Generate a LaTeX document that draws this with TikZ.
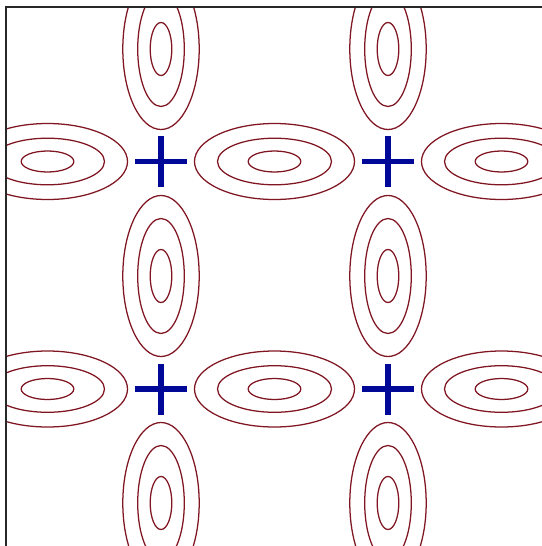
\documentclass[tikz,border=0pt]{standalone}
\definecolor{contour}{RGB}{128,22,34}
\definecolor{saddle}{RGB}{0,8,152}
\definecolor{frameline}{RGB}{40,40,40}
\tikzset{
  level/.style={draw=contour, line width=0.95pt},
  crossbar/.style={draw=saddle, line width=4.2pt},
  edge/.style={draw=frameline, line width=1.2pt}
}
\begin{document}
\begin{tikzpicture}[x=0.75pt, y=-0.75pt]
  \useasboundingbox (0,0) rectangle (542,546);
  \fill[white] (0,0) rectangle (542,546);
  \begin{scope}
    \clip (6,7) rectangle (542,546);
    % horizontally elongated contours on the saddle rows
    \foreach \cx in {47.5,274.5,501.5} {
      \foreach \cy in {161.5,389} {
        \draw[level] (\cx,\cy) ellipse [x radius=26.3, y radius=10.5];
        \draw[level] (\cx,\cy) ellipse [x radius=57, y radius=23.3];
        \draw[level] (\cx,\cy) ellipse [x radius=80, y radius=38];
      }
    }
    % vertically elongated contours on the saddle columns
    \foreach \cx in {161,388} {
      \foreach \cy in {49,276,503} {
        \draw[level] (\cx,\cy) ellipse [x radius=10.8, y radius=26.5];
        \draw[level] (\cx,\cy) ellipse [x radius=23.3, y radius=57.5];
        \draw[level] (\cx,\cy) ellipse [x radius=38.2, y radius=80.5];
      }
    }
    % saddle points
    \foreach \cx in {161,388} {
      \foreach \cy in {161.5,389} {
        \draw[crossbar] (\cx-26,\cy) -- (\cx+26,\cy);
        \draw[crossbar] (\cx,\cy-25.5) -- (\cx,\cy+25.5);
      }
    }
  \end{scope}
  % frame edges
  \draw[edge] (6,546) -- (6,7) -- (542,7);
\end{tikzpicture}
\end{document}
